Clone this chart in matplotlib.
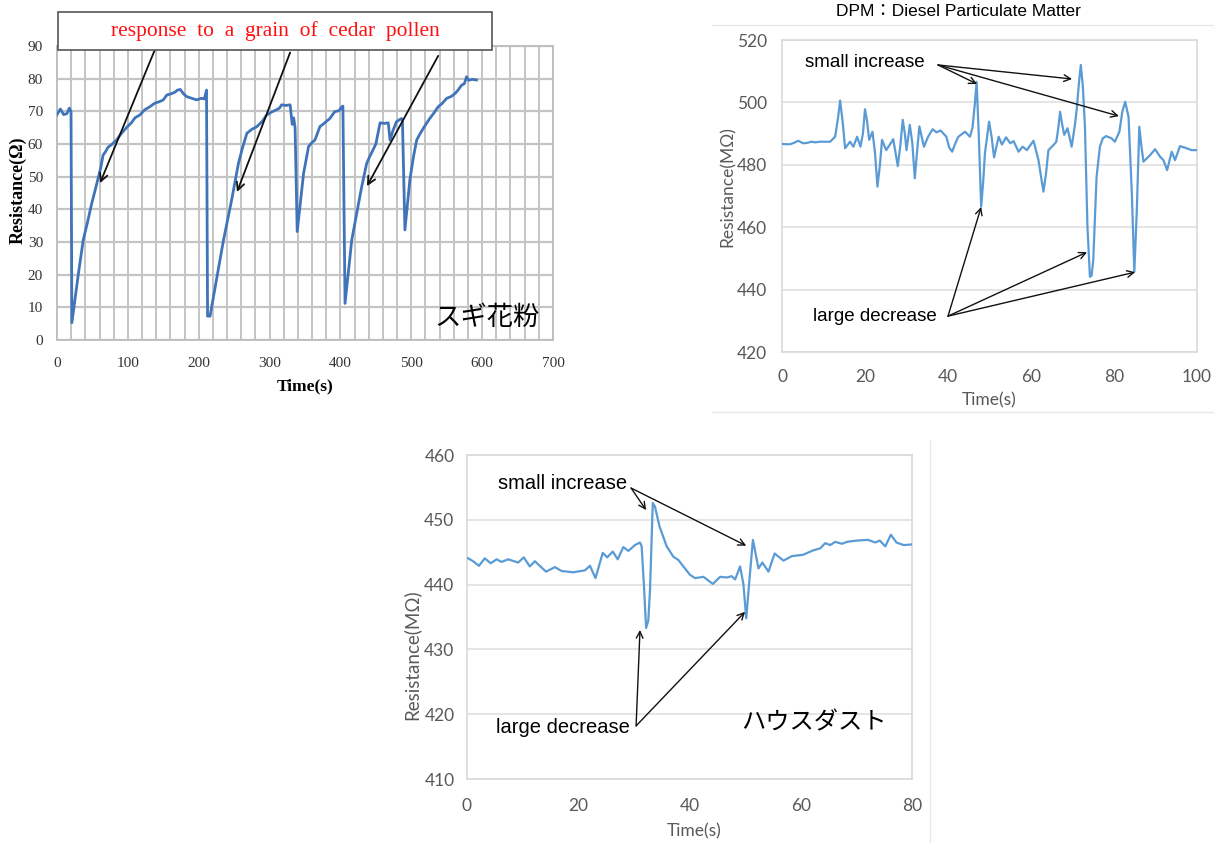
import matplotlib
matplotlib.use("Agg")
import matplotlib.pyplot as plt
from matplotlib.lines import Line2D
from matplotlib.patches import Rectangle
from matplotlib.ticker import MultipleLocator

# ---------------- data: cedar pollen ----------------
cedar_t = [0, 4.7, 9.4, 14, 17.4, 19.8, 21, 30, 37, 43, 49, 54, 58, 62, 65, 68, 72, 78, 84, 90, 98,
           105, 110, 117, 124, 131, 138, 145, 150, 155, 160, 166, 170, 174, 178, 183, 190, 197, 204,
           208, 211, 212.5, 216, 225, 235, 246.5, 256, 262, 268, 275, 282, 290, 296, 303, 310, 314,
           317, 323, 329, 332, 334, 336, 339, 348, 355, 360, 364, 371, 378, 385, 392, 398, 402, 403.5,
           406.5, 416, 423, 430, 437, 441, 446, 450, 453.5, 456, 462, 467.5, 470, 474, 479, 486, 487.5,
           491, 498, 503, 507.6, 512, 517, 522, 526, 532, 538, 544, 550, 556, 562, 566, 571, 575, 578,
           581, 586, 592]
cedar_r = [69, 70.7, 69, 69.3, 71, 69.9, 5.3, 20, 30.6, 36, 41.8, 46, 49.5, 53, 56.6, 57.5, 59, 60, 61.2,
           63, 65, 66.5, 68, 68.9, 70.5, 71.4, 72.5, 73, 73.5, 75, 75.3, 75.8, 76.5, 76.7, 75.5, 74.5, 74,
           73.5, 74, 73.8, 76.5, 7.3, 7.3, 18.4, 30.6, 42.9, 54, 59, 63.3, 64.5, 65.3, 67, 68.9, 69.8,
           70.5, 71, 72, 71.8, 72, 66, 68, 65, 33.2, 51, 59.2, 60.5, 61.2, 65.3, 66.5, 67.8, 69.9, 70.2,
           71.4, 71.6, 11.2, 30.6, 38.8, 46.9, 54, 56, 58.2, 60, 63.8, 66.5, 66.3, 66.5, 61.2, 64, 66.8,
           67.8, 67.5, 33.7, 49, 56, 61.2, 63, 64.8, 66.5, 67.8, 69.5, 71.4, 72.5, 74, 74.5, 75.5, 76.5,
           78, 78.5, 80.6, 79.5, 79.8, 79.6]

# ---------------- data: DPM ----------------
dpm_t = [0, 1, 2, 3, 3.9, 5.1, 6, 7.1, 8, 9.1, 10.5, 11.6, 12.8, 13.5, 14.0, 14.6, 15.2, 16.4, 17.2,
         18.1, 18.9, 19.5, 20.0, 20.5, 21.0, 21.8, 22.4, 23.0, 23.6, 24.1, 25.1, 26.0, 26.8, 27.9, 28.5,
         29.1, 29.6, 30.0, 30.8, 31.4, 32.0, 32.6, 33.1, 34.2, 35.2, 36.3, 37.2, 38.2, 39.6, 40.3, 41.0,
         41.8, 42.5, 44.1, 45.3, 45.9, 46.5, 46.9, 47.4, 48.0, 48.5, 48.9, 49.9, 50.5, 51.1, 52.2, 53.0,
         54.0, 55.0, 55.8, 57.0, 58.0, 59.0, 60.6, 61.8, 62.5, 63.0, 63.6, 64.2, 65.4, 66.1, 66.6, 67.0,
         67.5, 68.0, 68.8, 69.8, 70.5, 71.0, 71.6, 72.0, 72.5, 73.0, 73.6, 74.2, 74.6, 75.0, 75.8, 76.6,
         77.3, 78.1, 79.4, 80.2, 81.3, 82.0, 82.7, 83.5, 84.3, 84.9, 85.5, 86.1, 86.6, 87.1, 88.7, 89.9,
         91.1, 91.9, 92.8, 93.9, 94.7, 95.9, 97.5, 98.7, 99.9]
dpm_r = [486.7, 486.6, 486.6, 487.1, 487.7, 486.9, 487.0, 487.4, 487.2, 487.4, 487.4, 487.4, 489, 495,
         500.6, 494, 485.3, 487.4, 485.8, 489, 485.8, 490, 497.8, 494, 488, 490.6, 484, 473, 480, 488,
         484.7, 486.5, 488.2, 479.6, 486, 494.4, 490, 484.7, 492.8, 487, 475.7, 485, 492.3, 485.8, 489,
         491.4, 490.4, 491, 489, 485.5, 484.2, 487, 489, 490.6, 489, 491.9, 500, 506.6, 490, 466.6, 475,
         483.7, 493.8, 489, 482.4, 489, 486.5, 488.8, 486.9, 487.6, 484.2, 485.8, 484.7, 487.7, 481.5,
         475.5, 471.4, 477, 484.7, 486.3, 487.4, 492, 497, 493, 489.6, 491.7, 485.8, 492, 497.5, 507,
         512, 505, 492.2, 460.2, 444.1, 444.5, 449.4, 476.1, 485.8, 488.5, 489.2, 488.5, 487.4, 490.6,
         497, 500.2, 495.4, 470.8, 445.7, 465.5, 492.2, 486, 481, 483.1, 485, 482.6, 481.5, 478.3, 484.2,
         481.5, 486, 485.3, 484.7, 484.7]

# ---------------- data: house dust ----------------
dust_t = [0, 0.24, 1.1, 2.15, 3.2, 4.25, 5.33, 6.2, 7.4, 9.2, 10.2, 11.3, 12.2, 14.2, 15.8, 17.0, 19.1,
          21.2, 22.1, 23.1, 24.4, 25.2, 26.2, 27.1, 28.1, 29.0, 30.2, 31.1, 31.4, 31.8, 32.2, 32.6, 32.9,
          33.4, 33.8, 34.6, 35.9, 37.1, 38.0, 38.9, 40.1, 41.0, 42.5, 44.2, 45.5, 46.7, 47.6, 48.2, 49.1,
          49.7, 50.2, 50.8, 51.4, 52.4, 53.1, 54.2, 55.3, 56.9, 58.4, 60.4, 62.3, 63.5, 64.4, 65.3, 66.2,
          67.4, 68.3, 70.1, 72.1, 73.4, 74.2, 75.2, 76.2, 77.2, 78.5, 80.0]
dust_r = [444.1, 444.05, 443.6, 442.9, 444.05, 443.3, 443.9, 443.5, 443.9, 443.4, 444.2, 442.8, 443.6,
          442.0, 442.7, 442.1, 441.9, 442.2, 442.9, 441.0, 444.9, 444.2, 445.1, 443.9, 445.8, 445.2,
          446.1, 446.5, 445.9, 440, 433.3, 434.5, 439.2, 452.6, 452.0, 449.0, 445.9, 444.3, 443.8, 442.8,
          441.5, 441.0, 441.2, 440.1, 441.2, 441.1, 441.3, 440.8, 442.8, 440, 434.8, 441, 446.9, 442.5,
          443.4, 442.0, 444.8, 443.7, 444.4, 444.6, 445.3, 445.6, 446.4, 446.1, 446.6, 446.3, 446.6,
          446.8, 446.9, 446.5, 446.8, 445.9, 447.7, 446.5, 446.1, 446.2]

cedar_ticks_x = [0, 100, 200, 300, 400, 500, 600, 700]
cedar_ticks_y = [0, 10, 20, 30, 40, 50, 60, 70, 80, 90]
dpm_ticks_x = [0, 20, 40, 60, 80, 100]
dpm_ticks_y = [420, 440, 460, 480, 500, 520]
dust_ticks_x = [0, 20, 40, 60, 80]
dust_ticks_y = [410, 420, 430, 440, 450, 460]

W, H = 1214, 843
fig = plt.figure(figsize=(W / 100, H / 100), dpi=100)
fig.patch.set_facecolor("white")


def ax_rect(l, t, r, b):
    return [l / W, 1 - b / H, (r - l) / W, (b - t) / H]


SERIF = "Liberation Serif"
SANS = "Liberation Sans"
CAL = "Lato"
JP = ["Noto Sans CJK JP", "DejaVu Sans"]
GREY = "#595959"

# ================= panel 1: cedar pollen =================
ax1 = fig.add_axes(ax_rect(57, 46, 553, 340))
ax1.plot(cedar_t, cedar_r, color="#3F74BA", lw=2.0, zorder=3)
ax1.set_xlim(0, 700)
ax1.set_ylim(0, 90)
ax1.set_xticks(cedar_ticks_x)
ax1.set_yticks(cedar_ticks_y)
ax1.xaxis.set_minor_locator(MultipleLocator(20))
ax1.grid(True, which="both", axis="x", color="#C4C4C4", lw=1.4)
ax1.grid(True, which="major", axis="y", color="#C4C4C4", lw=1.6)
ax1.tick_params(which="both", length=0)
ax1.tick_params(axis="x", pad=12)
ax1.tick_params(axis="y", pad=10)
for lab in ax1.get_xticklabels() + ax1.get_yticklabels():
    lab.set_fontfamily(SERIF)
    lab.set_fontsize(11)
    lab.set_color("#333333")
for s in ax1.spines.values():
    s.set_color("#BFBFBF")
    s.set_linewidth(1.4)
ax1.set_xlabel("Time(s)", fontfamily=SERIF, fontweight="bold", fontsize=12.5)
ax1.xaxis.set_label_coords(0.5, -0.13)
ax1.set_ylabel("Resistance(Ω)", fontfamily=SERIF, fontweight="bold", fontsize=13)
ax1.yaxis.set_label_coords(-0.062, 0.51)

# title box
box_l, box_r = (58 - 57) / 0.7086, (492 - 57) / 0.7086
box_b, box_t = (340 - 50) / 3.267, (340 - 12) / 3.267
ax1.add_patch(Rectangle((box_l, box_b), box_r - box_l, box_t - box_b, facecolor="white",
                        edgecolor="#555555", lw=1.2, clip_on=False, zorder=5))
ax1.text((box_l + box_r) / 2, (box_b + box_t) / 2, "response  to  a  grain  of  cedar  pollen",
         color="#FF1010", fontfamily=SERIF, fontsize=15.5, ha="center", va="center", zorder=6,
         clip_on=False)
for (xt, yt), (xh, yh) in [((138, 88.8), (60.7, 48)), ((329, 88), (254, 45.3)), ((538, 87), (437.5, 47.1))]:
    ax1.annotate("", xy=(xh, yh), xytext=(xt, yt), annotation_clip=False, zorder=4,
                 arrowprops=dict(arrowstyle="->", color="#111111", lw=1.3, shrinkA=0, shrinkB=0,
                                 mutation_scale=14))
ax1.text(0.974, 0.075, "スギ花粉", transform=ax1.transAxes, fontfamily=JP, fontsize=19,
         ha="right", va="center", zorder=6)

# ================= panel 2: DPM =================
def style_excel(ax, ticks_x, ticks_y, fs):
    ax.set_xticks(ticks_x)
    ax.set_yticks(ticks_y)
    ax.grid(True, axis="y", color="#E0E0E0", lw=1.2)
    ax.tick_params(length=0)
    for lab in ax.get_xticklabels() + ax.get_yticklabels():
        lab.set_fontfamily(CAL)
        lab.set_fontsize(fs)
        lab.set_color(GREY)
    for s in ax.spines.values():
        s.set_color("#D9D9D9")
        s.set_linewidth(1.2)


ax2 = fig.add_axes(ax_rect(782, 40, 1197, 352))
ax2.plot(dpm_t, dpm_r, color="#5B9BD5", lw=1.6, zorder=3, solid_joinstyle="round")
ax2.set_xlim(0, 100)
ax2.set_ylim(420, 520)
style_excel(ax2, dpm_ticks_x, dpm_ticks_y, 12.5)
ax2.tick_params(axis="y", pad=11)
ax2.tick_params(axis="x", pad=12)
ax2.set_xlabel("Time(s)", fontfamily=CAL, fontsize=12.5, color=GREY)
ax2.xaxis.set_label_coords(0.5, -0.128)
ax2.set_ylabel("Resistance(MΩ)", fontfamily=CAL, fontsize=12.5, color=GREY)
ax2.yaxis.set_label_coords(-0.112, 0.529)

ax2.text(5.5, 512.7, "small increase", fontfamily=SANS, fontsize=13.5, ha="left", va="center", zorder=6)
for h in [(47.0, 505.9), (69.9, 507.5), (81.2, 495.6)]:
    ax2.annotate("", xy=h, xytext=(37.6, 512.0), zorder=4,
                 arrowprops=dict(arrowstyle="->", color="#111111", lw=1.0, shrinkA=0, shrinkB=0,
                                 mutation_scale=12))
ax2.text(7.5, 431.5, "large decrease", fontfamily=SANS, fontsize=13.5, ha="left", va="center", zorder=6)
for h in [(48.0, 466.5), (73.5, 452.0), (85.1, 445.6)]:
    ax2.annotate("", xy=h, xytext=(40.0, 431.5), zorder=4,
                 arrowprops=dict(arrowstyle="->", color="#111111", lw=1.0, shrinkA=0, shrinkB=0,
                                 mutation_scale=12))
fig.text(958 / W, 1 - 12 / H, "DPM：Diesel Particulate Matter", fontfamily=[SANS, "Noto Sans CJK JP"],
         fontsize=12.5, ha="center", va="center")
fig.add_artist(Line2D([712 / W, 1], [1 - 25 / H] * 2, color="#E6E6E6", lw=1.0))
fig.add_artist(Line2D([712 / W, 1], [1 - 412 / H] * 2, color="#E6E6E6", lw=1.0))

# ================= panel 3: house dust =================
ax3 = fig.add_axes(ax_rect(467, 455, 912, 779))
ax3.plot(dust_t, dust_r, color="#5B9BD5", lw=1.6, zorder=3, solid_joinstyle="round")
ax3.set_xlim(0, 80)
ax3.set_ylim(410, 460)
style_excel(ax3, dust_ticks_x, dust_ticks_y, 12.5)
ax3.tick_params(axis="y", pad=9)
ax3.tick_params(axis="x", pad=14)
ax3.set_xlabel("Time(s)", fontfamily=CAL, fontsize=12.5, color=GREY)
ax3.xaxis.set_label_coords(0.51, -0.136)
ax3.set_ylabel("Resistance(MΩ)", fontfamily=CAL, fontsize=13.5, color=GREY)
ax3.yaxis.set_label_coords(-0.104, 0.383)

ax3.text(5.5, 455.6, "small increase", fontfamily=SANS, fontsize=14.5, ha="left", va="center", zorder=6)
for h in [(32.2, 451.5), (50.2, 446.0)]:
    ax3.annotate("", xy=h, xytext=(29.5, 454.9), zorder=4,
                 arrowprops=dict(arrowstyle="->", color="#111111", lw=1.0, shrinkA=0, shrinkB=0,
                                 mutation_scale=12))
ax3.text(5.3, 418.0, "large decrease", fontfamily=SANS, fontsize=14.5, ha="left", va="center", zorder=6,
         bbox=dict(facecolor="white", edgecolor="none", pad=1))
for h in [(31.1, 433.0), (50.0, 435.8)]:
    ax3.annotate("", xy=h, xytext=(30.4, 418.2), zorder=4,
                 arrowprops=dict(arrowstyle="->", color="#111111", lw=1.0, shrinkA=0, shrinkB=0,
                                 mutation_scale=12))
ax3.text(49.2, 418.8, "ハウスダスト", fontfamily=JP, fontsize=17.5, ha="left", va="center", zorder=6)
fig.add_artist(Line2D([930 / W] * 2, [0, 1 - 440 / H], color="#E6E6E6", lw=1.0))

fig.savefig("out.png", dpi=100, facecolor="white")
